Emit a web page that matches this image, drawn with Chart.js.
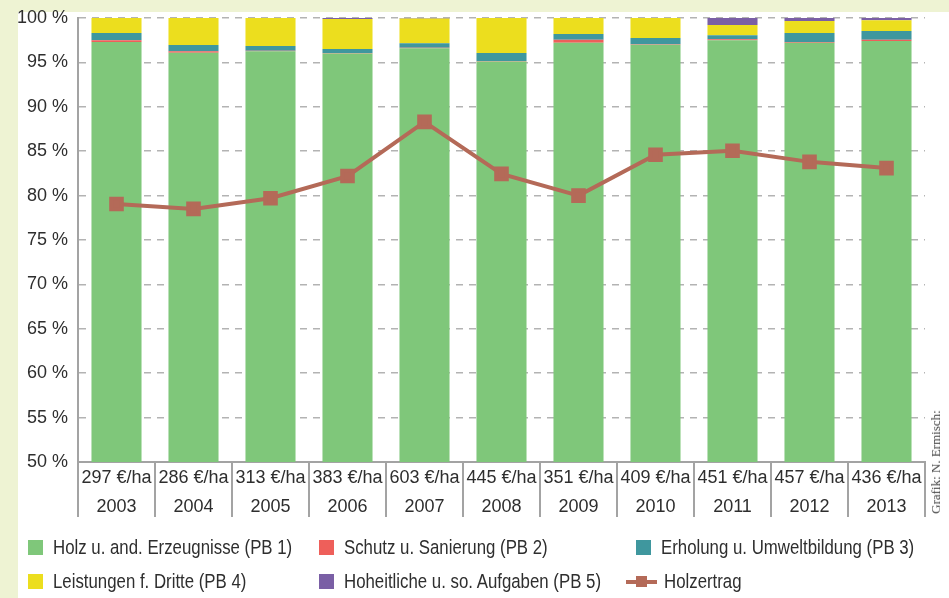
<!DOCTYPE html>
<html>
<head>
<meta charset="utf-8">
<title>Produktbereiche</title>
<script src="https://cdn.jsdelivr.net/npm/chart.js"></script>
<style>
  html, body { margin: 0; padding: 0; background: #fff; }
  #wrap { position: relative; width: 949px; height: 598px; font-family: "Liberation Sans", Arial, sans-serif; color: #2e2e2e; }
  canvas { position: absolute; left: 0; top: 0; }
  .leg { position: absolute; font-size: 20.5px; line-height: 20px; white-space: nowrap; transform: scaleX(0.82); transform-origin: 0 50%; }
  .box { position: absolute; width: 15px; height: 15px; }
  .credit { position: absolute; left: 936px; top: 462px; transform: translate(-50%, -50%) rotate(-90deg); font-family: "Liberation Serif", serif; font-size: 13px; color: #444; white-space: nowrap; }
</style>
</head>
<body>
<div id="wrap">
  <canvas id="chart" width="949" height="598"></canvas>
  <div id="legend"></div>
  <div class="credit">Grafik: N. Ermisch:</div>
</div>
<script>
const years = ['2003', '2004', '2005', '2006', '2007', '2008', '2009', '2010', '2011', '2012', '2013'];
const ertrag = [297, 286, 313, 383, 603, 445, 351, 409, 451, 457, 436];

// Anteile der Produktbereiche in %
const pb1 = [97.3, 96.1, 96.25, 96.0, 96.6, 95.1, 97.2, 97.0, 97.5, 97.2, 97.4];
const pb2 = [0.2, 0.15, 0.05, 0.05, 0.05, 0.05, 0.35, 0.05, 0.1, 0.1, 0.15];
const pb3 = [0.8, 0.7, 0.55, 0.45, 0.5, 0.9, 0.65, 0.7, 0.45, 1.0, 1.0];
const pb4 = [1.7, 3.05, 3.15, 3.4, 2.8, 3.95, 1.8, 2.25, 1.15, 1.35, 1.2];
const pb5 = [0, 0, 0, 0.1, 0.05, 0, 0, 0, 0.8, 0.35, 0.25];
const holzertrag = [79.05, 78.5, 79.7, 82.2, 88.3, 82.45, 80.0, 84.6, 85.05, 83.8, 83.1];

const labels = years.map((y, i) => [ertrag[i] + ' €/ha', y]);

const colors = {
  pb1: '#7fc77a',
  pb2: '#ee5f5a',
  pb3: '#3f979e',
  pb4: '#ecde1e',
  pb5: '#7a5fa5',
  line: '#b46a58'
};

const legendItems = [
  { text: 'Holz u. and. Erzeugnisse (PB 1)', color: colors.pb1, x: 28, y: 540 },
  { text: 'Schutz u. Sanierung (PB 2)', color: colors.pb2, x: 319, y: 540 },
  { text: 'Erholung u. Umweltbildung (PB 3)', color: colors.pb3, x: 636, y: 540 },
  { text: 'Leistungen f. Dritte (PB 4)', color: colors.pb4, x: 28, y: 574 },
  { text: 'Hoheitliche u. so. Aufgaben (PB 5)', color: colors.pb5, x: 319, y: 574 },
  { text: 'Holzertrag', color: colors.line, x: 636, y: 574, line: true }
];

const legendEl = document.getElementById('legend');
legendItems.forEach(it => {
  if (it.line) {
    legendEl.insertAdjacentHTML('beforeend',
      `<div class="box" style="left:${it.x - 10}px;top:${it.y + 6}px;width:31px;height:4px;background:${it.color}"></div>` +
      `<div class="box" style="left:${it.x}px;top:${it.y + 2}px;width:11px;height:11px;background:${it.color}"></div>` +
      `<div class="leg" style="left:${it.x + 28}px;top:${it.y - 3}px">${it.text}</div>`);
  } else {
    legendEl.insertAdjacentHTML('beforeend',
      `<div class="box" style="left:${it.x}px;top:${it.y}px;background:${it.color}"></div>` +
      `<div class="leg" style="left:${it.x + 25}px;top:${it.y - 3}px">${it.text}</div>`);
  }
});

const bgPlugin = {
  id: 'bg',
  beforeDraw(chart) {
    const c = chart.ctx;
    c.save();
    c.fillStyle = '#eef3d3';
    c.fillRect(0, 0, chart.width, chart.height);
    c.fillStyle = '#ffffff';
    c.fillRect(18, 12, chart.width - 18, chart.height - 12);
    c.restore();
  }
};

const barDs = (label, data, color) => ({
  type: 'bar',
  label,
  data,
  backgroundColor: color,
  stack: 'pb',
  barPercentage: 0.65,
  categoryPercentage: 1,
  order: 2
});

const tickFont = { family: '"Liberation Sans", Arial, sans-serif', size: 18 };

new Chart(document.getElementById('chart'), {
  data: {
    labels,
    datasets: [
      {
        type: 'line',
        label: 'Holzertrag',
        data: holzertrag,
        borderColor: colors.line,
        backgroundColor: colors.line,
        borderWidth: 4,
        pointStyle: 'rect',
        pointRadius: 7.5,
        tension: 0,
        stack: 'line',
        order: 1
      },
      barDs('Holz u. and. Erzeugnisse (PB 1)', pb1, colors.pb1),
      barDs('Schutz u. Sanierung (PB 2)', pb2, colors.pb2),
      barDs('Erholung u. Umweltbildung (PB 3)', pb3, colors.pb3),
      barDs('Leistungen f. Dritte (PB 4)', pb4, colors.pb4),
      barDs('Hoheitliche u. so. Aufgaben (PB 5)', pb5, colors.pb5)
    ]
  },
  options: {
    responsive: false,
    animation: false,
    layout: { padding: { top: 18, right: 24, left: 0, bottom: 0 } },
    plugins: {
      legend: { display: false },
      tooltip: { enabled: false }
    },
    scales: {
      x: {
        stacked: true,
        offset: true,
        grid: {
          offset: true,
          drawOnChartArea: false,
          drawTicks: true,
          tickLength: 55,
          color: '#a3a3a3',
          lineWidth: 2
        },
        border: { color: '#a3a3a3', width: 2 },
        ticks: {
          padding: -53,
          maxRotation: 0,
          autoSkip: false,
          color: '#2e2e2e',
          font: Object.assign({ lineHeight: 1.6 }, tickFont)
        },
        afterFit(scale) { scale.height = 136; }
      },
      y: {
        stacked: true,
        min: 50,
        max: 100,
        ticks: {
          stepSize: 5,
          padding: 10,
          color: '#2e2e2e',
          callback: v => v + ' %',
          font: tickFont
        },
        grid: {
          drawTicks: false,
          color: '#b3b3b3',
          lineWidth: 1.5
        },
        border: { color: '#a3a3a3', width: 2, dash: [7, 6] },
        afterFit(scale) {
          scale.width = 78;
          scale.paddingTop = 0;
          scale.paddingBottom = 0;
        }
      }
    }
  },
  plugins: [bgPlugin]
});
</script>
</body>
</html>
